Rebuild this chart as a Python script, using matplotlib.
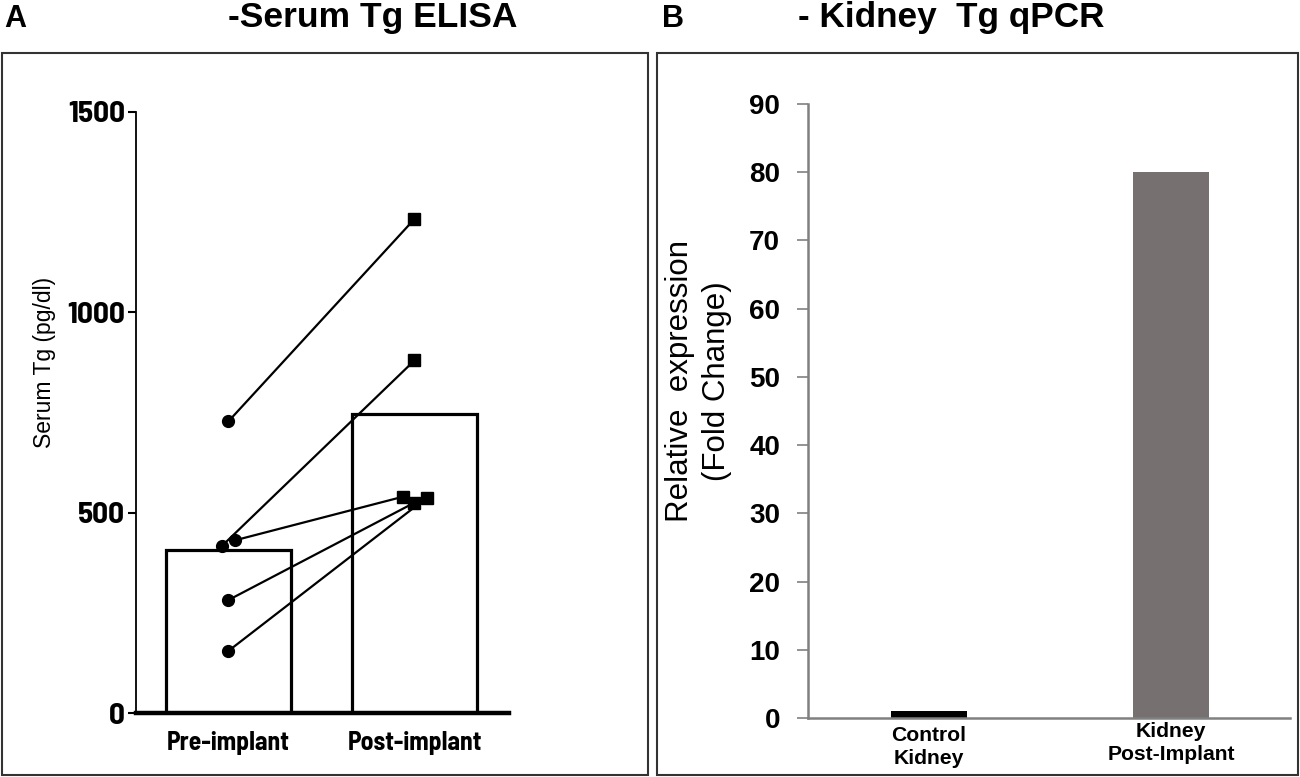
import matplotlib
matplotlib.use("Agg")
import matplotlib.pyplot as plt
from matplotlib.patches import Rectangle
import matplotlib.transforms as mtransforms

# ---------------- data ----------------
groups_a = ["Pre-implant", "Post-implant"]
bar_means_a = [406, 747]
pre_values = [728, 417, 431, 282, 155]
post_values = [1233, 880, 540, 525, 537]
pre_jitter = [0.0, -0.035, 0.035, 0.0, 0.0]
post_jitter = [0.0, 0.0, -0.06, 0.0, 0.065]
yticks_a = [0, 500, 1000, 1500]

groups_b = ["Control\nKidney", "Kidney\nPost-Implant"]
fold_change = [1.0, 80.0]
bar_colors_b = ["#000000", "#767070"]
yticks_b = [0, 10, 20, 30, 40, 50, 60, 70, 80, 90]

W, H = 1300, 777
fig = plt.figure(figsize=(13, 7.77), dpi=100)

NARROW = ["Barlow Semi Condensed", "DejaVu Sans"]
ARIAL = ["Liberation Sans", "DejaVu Sans"]

def fx(px):
    return px / W

def fy(py):
    return 1 - py / H

# panel frames
fig.patches.append(Rectangle((fx(2), fy(775)), fx(646), 722 / H, transform=fig.transFigure,
                             fill=False, edgecolor="#333333", linewidth=1.5, zorder=0))
fig.patches.append(Rectangle((fx(657), fy(775)), fx(641), 722 / H, transform=fig.transFigure,
                             fill=False, edgecolor="#333333", linewidth=1.5, zorder=0))

# panel labels and titles
fig.text(fx(4), fy(27), "A", fontsize=22, fontweight="bold", family=ARIAL, va="baseline")
fig.text(fx(662), fy(27), "B", fontsize=22, fontweight="bold", family=ARIAL, va="baseline")
fig.text(fx(373), fy(27), "-Serum Tg ELISA", fontsize=25.5, fontweight="bold", family=ARIAL,
         ha="center", va="baseline")
fig.text(fx(951), fy(27), "- Kidney  Tg qPCR", fontsize=25.3, fontweight="bold", family=ARIAL,
         ha="center", va="baseline")

# ---------------- panel A ----------------
axA = fig.add_axes([fx(136), fy(713), fx(509 - 136), (713 - 112) / H])
xa = [0, 1]
axA.bar(xa, bar_means_a, width=0.667, facecolor="white", edgecolor="black", linewidth=2.3, zorder=2)
for p, q, jp, jq in zip(pre_values, post_values, pre_jitter, post_jitter):
    axA.plot([xa[0] + jp, xa[1] + jq], [p, q], color="black", linewidth=1.6, zorder=3)
    axA.plot(xa[0] + jp, p, marker="o", markersize=8.5, color="black", zorder=4)
    axA.plot(xa[1] + jq, q, marker="s", markersize=8.5, color="black", zorder=4)
axA.set_xlim(-0.497, 1.508)
axA.set_ylim(0, 1500)
axA.set_yticks(yticks_a)
axA.set_yticklabels([str(v) for v in yticks_a], family=NARROW, fontweight="bold", fontsize=22.5)
axA.set_xticks(xa)
axA.set_xticklabels(groups_a, family=NARROW, fontweight="bold", fontsize=18.5)
axA.tick_params(axis="x", length=0, pad=13)
axA.tick_params(axis="y", length=6, width=1.5, pad=2, direction="out")
for s in ["top", "right"]:
    axA.spines[s].set_visible(False)
axA.spines["left"].set_linewidth(1.3)
axA.spines["bottom"].set_linewidth(3.2)
axA.spines["bottom"].set_zorder(5)
axA.set_ylabel("Serum Tg (pg/dl)", family=ARIAL, fontsize=16.5)
axA.yaxis.set_label_coords((56 - 136) / (509 - 136), (713 - 362) / (713 - 112))
axA.patch.set_alpha(0)

# ---------------- panel B ----------------
axB = fig.add_axes([fx(808), fy(718), fx(1290 - 808), (718 - 104) / H])
xb = [0, 1]
axB.bar(xb, fold_change, width=0.314, color=bar_colors_b, zorder=2)
axB.set_xlim(-0.5, 1.492)
axB.set_ylim(0, 90)
axB.set_yticks(yticks_b)
axB.set_yticklabels([str(v) for v in yticks_b], family=ARIAL, fontweight="bold", fontsize=20)
axB.set_xticks(xb)
axB.set_xticklabels(groups_b, family=ARIAL, fontweight="bold", fontsize=15.2, linespacing=1.25)
axB.tick_params(axis="x", length=0, pad=6)
axB.tick_params(axis="y", length=8, width=1.2, color="#808080", pad=12, direction="out")
for s in ["top", "right"]:
    axB.spines[s].set_visible(False)
for s in ["left", "bottom"]:
    axB.spines[s].set_color("#808080")
    axB.spines[s].set_linewidth(1.8)
lab = axB.get_xticklabels()[1]
lab.set_transform(lab.get_transform() + mtransforms.ScaledTranslation(0, 4 / 100, fig.dpi_scale_trans))
axB.set_ylabel("Relative  expression\n(Fold Change)", family=ARIAL, fontsize=22.5, linespacing=1.3)
axB.yaxis.set_label_coords((732 - 808) / (1290 - 808), (718 - 381) / (718 - 104))
axB.patch.set_alpha(0)

fig.savefig("out.png", dpi=100)
